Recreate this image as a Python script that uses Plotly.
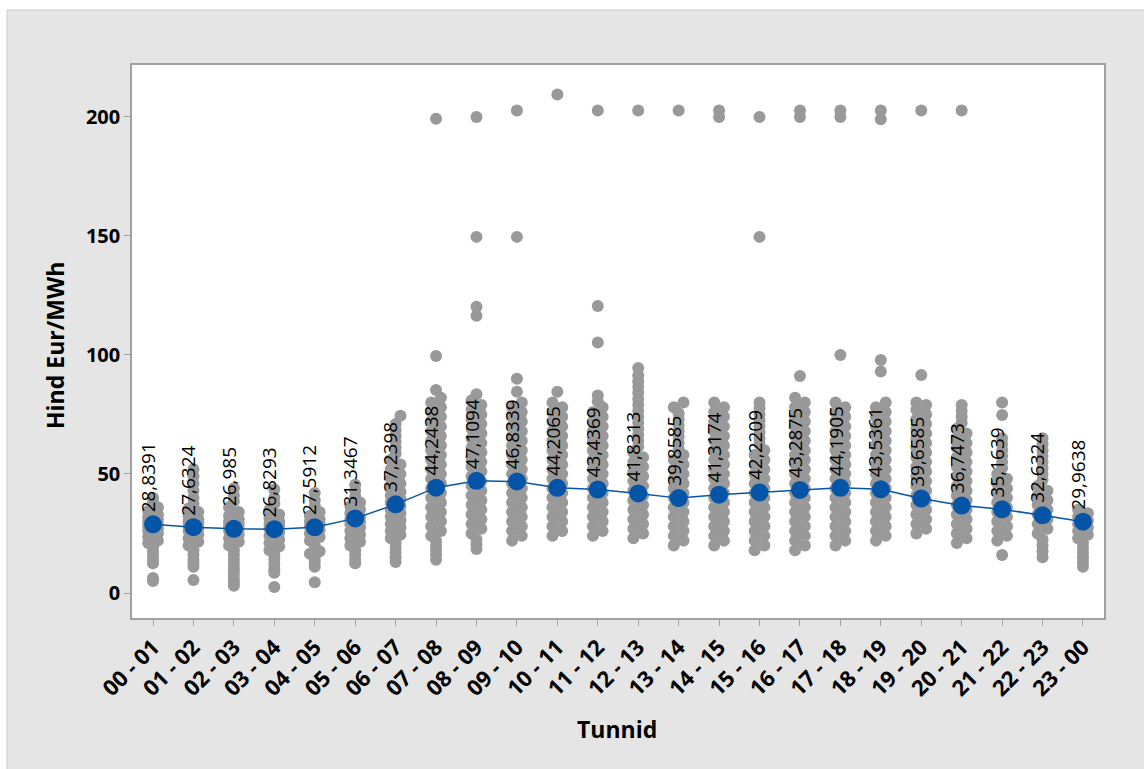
import plotly.graph_objects as go

# Hour intervals on the x axis
HOURS = ["00 - 01", "01 - 02", "02 - 03", "03 - 04", "04 - 05", "05 - 06",
         "06 - 07", "07 - 08", "08 - 09", "09 - 10", "10 - 11", "11 - 12",
         "12 - 13", "13 - 14", "14 - 15", "15 - 16", "16 - 17", "17 - 18",
         "18 - 19", "19 - 20", "20 - 21", "21 - 22", "22 - 23", "23 - 00"]

# Mean price per hour interval (Eur/MWh)
MEANS = [28.8391, 27.6324, 26.985, 26.8293, 27.5912, 31.3467, 37.2398, 44.2438,
         47.1094, 46.8339, 44.2065, 43.4369, 41.8313, 39.8585, 41.3174, 42.2209,
         43.2875, 44.1905, 43.5361, 39.6585, 36.7473, 35.1639, 32.6324, 29.9638]

# Individual prices in the dense band of each hour (drawn with horizontal jitter)
CORE_VALUES = [
    [21, 22, 23.5, 25, 26, 27, 28, 29, 30, 31, 32, 33, 34.5, 36],
    [20, 21.5, 23, 24.5, 26, 27, 28, 29, 30, 31, 32.5, 34, 35.5],
    [20, 21.5, 23, 24.5, 26, 27, 28, 29, 30, 31, 32.5, 34, 36],
    [18, 19.5, 21, 22.5, 24, 25.5, 27, 28, 29, 30, 31.5, 33, 35],
    [16.5, 17.5, 22, 23.5, 25, 26.5, 28, 29, 30, 31, 32.5, 34],
    [20, 21.5, 23, 24.5, 26, 27.5, 29, 30, 31, 32, 33.5, 35, 36.5, 38],
    [23, 24.5, 26, 27.5, 29, 30.5, 32, 33.5, 35, 36.5, 38, 39.5, 41, 42.5,
     44, 46, 48, 50, 52, 54, 56, 74.5],
    [24, 26, 28, 30, 32, 34, 36, 38, 40, 42, 44, 46, 48, 50, 52, 54, 56, 58,
     60, 62, 64, 66, 68, 70, 72, 74, 76, 78, 80, 82],
    [25, 27, 29, 31, 33, 35, 37, 39, 41, 43, 45, 47, 49, 51, 53, 55, 57, 59,
     61, 63, 65, 67, 69, 71, 73, 75, 77, 79, 81],
    [22, 24, 26, 28, 30, 32, 34, 36, 38, 40, 42, 44, 46, 48, 50, 52, 54, 56,
     58, 60, 62, 64, 66, 68, 70, 72, 74, 76, 78, 80],
    [24, 26, 28, 30, 32, 34, 36, 38, 40, 42, 44, 46, 48, 50, 52, 54, 56, 58,
     60, 62, 64, 66, 68, 70, 72, 74, 76, 78, 80],
    [24, 26, 28, 30, 32, 34, 36, 38, 40, 42, 44, 46, 48, 50, 52, 54, 56, 58,
     60, 62, 64, 66, 68, 70, 72, 74, 76, 78],
    [23, 25, 27, 29, 31, 33, 35, 37, 39, 41, 43, 45, 47, 49, 51, 53, 55, 57, 59],
    [20, 22, 24, 26, 28, 30, 32, 34, 36, 38, 40, 42, 44, 46, 48, 50, 52, 54,
     56, 58, 78, 80],
    [20, 22, 24, 26, 28, 30, 32, 34, 36, 38, 40, 42, 44, 46, 48, 50, 52, 54,
     56, 58, 60, 62, 64, 66, 68, 70, 72, 74, 76, 78, 80],
    [18, 20, 22, 24, 26, 28, 30, 32, 34, 36, 38, 40, 42, 44, 46, 48, 50, 52,
     54, 56, 58, 60],
    [18, 20, 22, 24, 26, 28, 30, 32, 34, 36, 38, 40, 42, 44, 46, 48, 50, 52,
     54, 56, 58, 60, 62, 64, 66, 68, 70, 72, 74, 76, 78, 80, 82],
    [20, 22, 24, 26, 28, 30, 32, 34, 36, 38, 40, 42, 44, 46, 48, 50, 52, 54,
     56, 58, 60, 62, 64, 66, 68, 70, 72, 74, 76, 78, 80],
    [22, 24, 26, 28, 30, 32, 34, 36, 38, 40, 42, 44, 46, 48, 50, 52, 54, 56,
     58, 60, 62, 64, 66, 68, 70, 72, 74, 76, 78, 80],
    [25, 27, 29, 31, 33, 35, 37, 39, 41, 43, 45, 47, 49, 51, 53, 55, 57, 59,
     61, 63, 65, 67, 69, 71, 73, 75, 77, 79, 80],
    [21, 23, 25, 27, 29, 31, 33, 35, 37, 39, 41, 43, 45, 47, 49, 51, 53, 55,
     57, 59, 61, 63, 65, 67, 69],
    [22, 24, 26, 28, 30, 32, 34, 36, 38, 40, 42, 44, 46, 48, 50],
    [25, 27, 29, 31, 33, 35, 37, 39, 41, 43, 45],
    [23, 24.5, 26, 27.5, 29, 30.5, 32, 33.5, 35],
]

# Remaining prices per hour: thin tails and outliers (drawn on the centre line)
OTHER_VALUES = [
    [38, 40, 19.5, 17.5, 15.5, 14, 12.5, 6.3, 5],
    [37.5, 40, 43, 46, 49, 52, 18, 16, 14, 12.5, 11, 5.5],
    [38.5, 41, 44, 18, 16, 14, 12, 10, 8, 6, 4.5, 3],
    [37.5, 40, 43.5, 16, 14, 12, 10, 8.5, 2.5],
    [36.5, 39, 42, 20, 18.5, 15, 13, 11, 4.5],
    [40.5, 43, 45.5, 18, 16, 14, 12.5],
    [58.5, 61, 63.5, 66, 68.5, 71, 21, 19, 17, 15, 13],
    [85.3, 99.6, 199.2, 22, 20, 18, 16, 14],
    [83.5, 22.5, 20.5, 18.5, 116.5, 120.2, 149.6, 200],
    [84.5, 90, 149.6, 202.7],
    [84.5, 209.4],
    [80.5, 83, 105.2, 120.6, 202.7],
    [61.5, 64, 66.5, 69, 71.5, 74, 76.5, 79, 81.5, 84, 86.5, 89, 91.5, 94.5, 202.7],
    [60.5, 63, 65.5, 68, 70.5, 73, 75.5, 202.7],
    [200, 202.7],
    [62.5, 65, 67.5, 70, 72.5, 75, 77.5, 80, 149.6, 200],
    [91.2, 200, 202.7],
    [100, 200, 202.7],
    [93, 97.9, 199, 202.7],
    [91.6, 202.7],
    [71.5, 74, 76.5, 79, 202.7],
    [52.5, 55, 57.5, 60, 62.5, 65, 74.8, 80, 16],
    [47.5, 50, 52.5, 55, 57.5, 60, 62.5, 65, 22.5, 20, 17.5, 15],
    [21, 19, 17, 15, 13, 11],
]

# Horizontal jitter (in category units) alternated over the dense band
JITTER = (-0.12, 0.12)
FONT = "Open Sans"
AXIS_GREY = "#a0a0a0"
DOT_GREY = "#999999"
MEAN_BLUE = "#0455a8"

# Build point coordinates: hour index on x, price on y
px, py = [], []
for i, vals in enumerate(CORE_VALUES):
    for k, v in enumerate(vals):
        px.append(i + JITTER[k % len(JITTER)])
        py.append(v)
for i, vals in enumerate(OTHER_VALUES):
    for v in vals:
        px.append(i)
        py.append(v)

fig = go.Figure()
fig.add_trace(go.Scatter(
    x=px, y=py, mode="markers",
    marker=dict(size=12, color=DOT_GREY, line=dict(width=0)),
    hoverinfo="y", showlegend=False,
))
fig.add_trace(go.Scatter(
    x=list(range(len(HOURS))), y=MEANS, mode="lines+markers",
    line=dict(color=MEAN_BLUE, width=1.5),
    marker=dict(size=18, color=MEAN_BLUE),
    showlegend=False,
))

# Mean value labels, rotated, above each mean marker
for i, m in enumerate(MEANS):
    label = f"{m:.4f}".rstrip("0").replace(".", ",")
    fig.add_annotation(
        x=i, y=m, xref="x", yref="y", text=label, showarrow=False,
        textangle=-90, xanchor="center", yanchor="top",
        xshift=-5, yshift=84,
        font=dict(family=FONT, size=19, color="black"),
    )

# Axis titles
fig.add_annotation(
    x=0.499, y=-0.2007, xref="paper", yref="paper", text="Tunnid",
    showarrow=False, xanchor="center", yanchor="middle",
    font=dict(family=FONT, size=23, color="black", weight="bold"),
)
fig.add_annotation(
    x=-0.0792, y=0.4919, xref="paper", yref="paper", text="Hind Eur/MWh",
    showarrow=False, xanchor="center", yanchor="middle", textangle=-90,
    font=dict(family=FONT, size=23, color="black", weight="bold"),
)

# Thin white strips along the top and left edges of the grey frame, plus its border
fig.add_shape(type="rect", xref="paper", yref="paper",
              x0=-0.2, x1=1.1, y0=1.0995, y1=1.2,
              fillcolor="white", line=dict(width=0), layer="below")
fig.add_shape(type="rect", xref="paper", yref="paper",
              x0=-0.2, x1=-0.1286, y0=-0.4, y1=1.2,
              fillcolor="white", line=dict(width=0), layer="below")
fig.add_shape(type="line", xref="paper", yref="paper",
              x0=-0.1286, x1=1.1, y0=1.0995, y1=1.0995,
              line=dict(color="#cfcfcf", width=1), layer="below")
fig.add_shape(type="line", xref="paper", yref="paper",
              x0=-0.1286, x1=-0.1286, y0=-0.4, y1=1.0995,
              line=dict(color="#cfcfcf", width=1), layer="below")

fig.update_xaxes(
    range=[-0.52, 23.52], tickmode="array",
    tickvals=list(range(len(HOURS))), ticktext=HOURS, tickangle=-45,
    ticks="outside", ticklen=6, tickcolor=AXIS_GREY, tickwidth=1,
    showline=True, linecolor=AXIS_GREY, linewidth=1.5, mirror=True,
    showgrid=False, zeroline=False,
    tickfont=dict(family=FONT, size=22, color="black", weight="bold"),
)
fig.update_yaxes(
    range=[-10.5, 221.8], tickmode="array", tickvals=[0, 50, 100, 150, 200],
    ticks="outside", ticklen=6, tickcolor=AXIS_GREY, tickwidth=1,
    showline=True, linecolor=AXIS_GREY, linewidth=1.5, mirror=True,
    showgrid=False, zeroline=False,
    tickfont=dict(family=FONT, size=20, color="black", weight="bold"),
)

fig.update_layout(
    width=1144, height=769,
    margin=dict(l=132, r=40, t=65, b=151),
    paper_bgcolor="#e5e5e5", plot_bgcolor="white",
    font=dict(family=FONT),
)

fig.write_html("out.html")
